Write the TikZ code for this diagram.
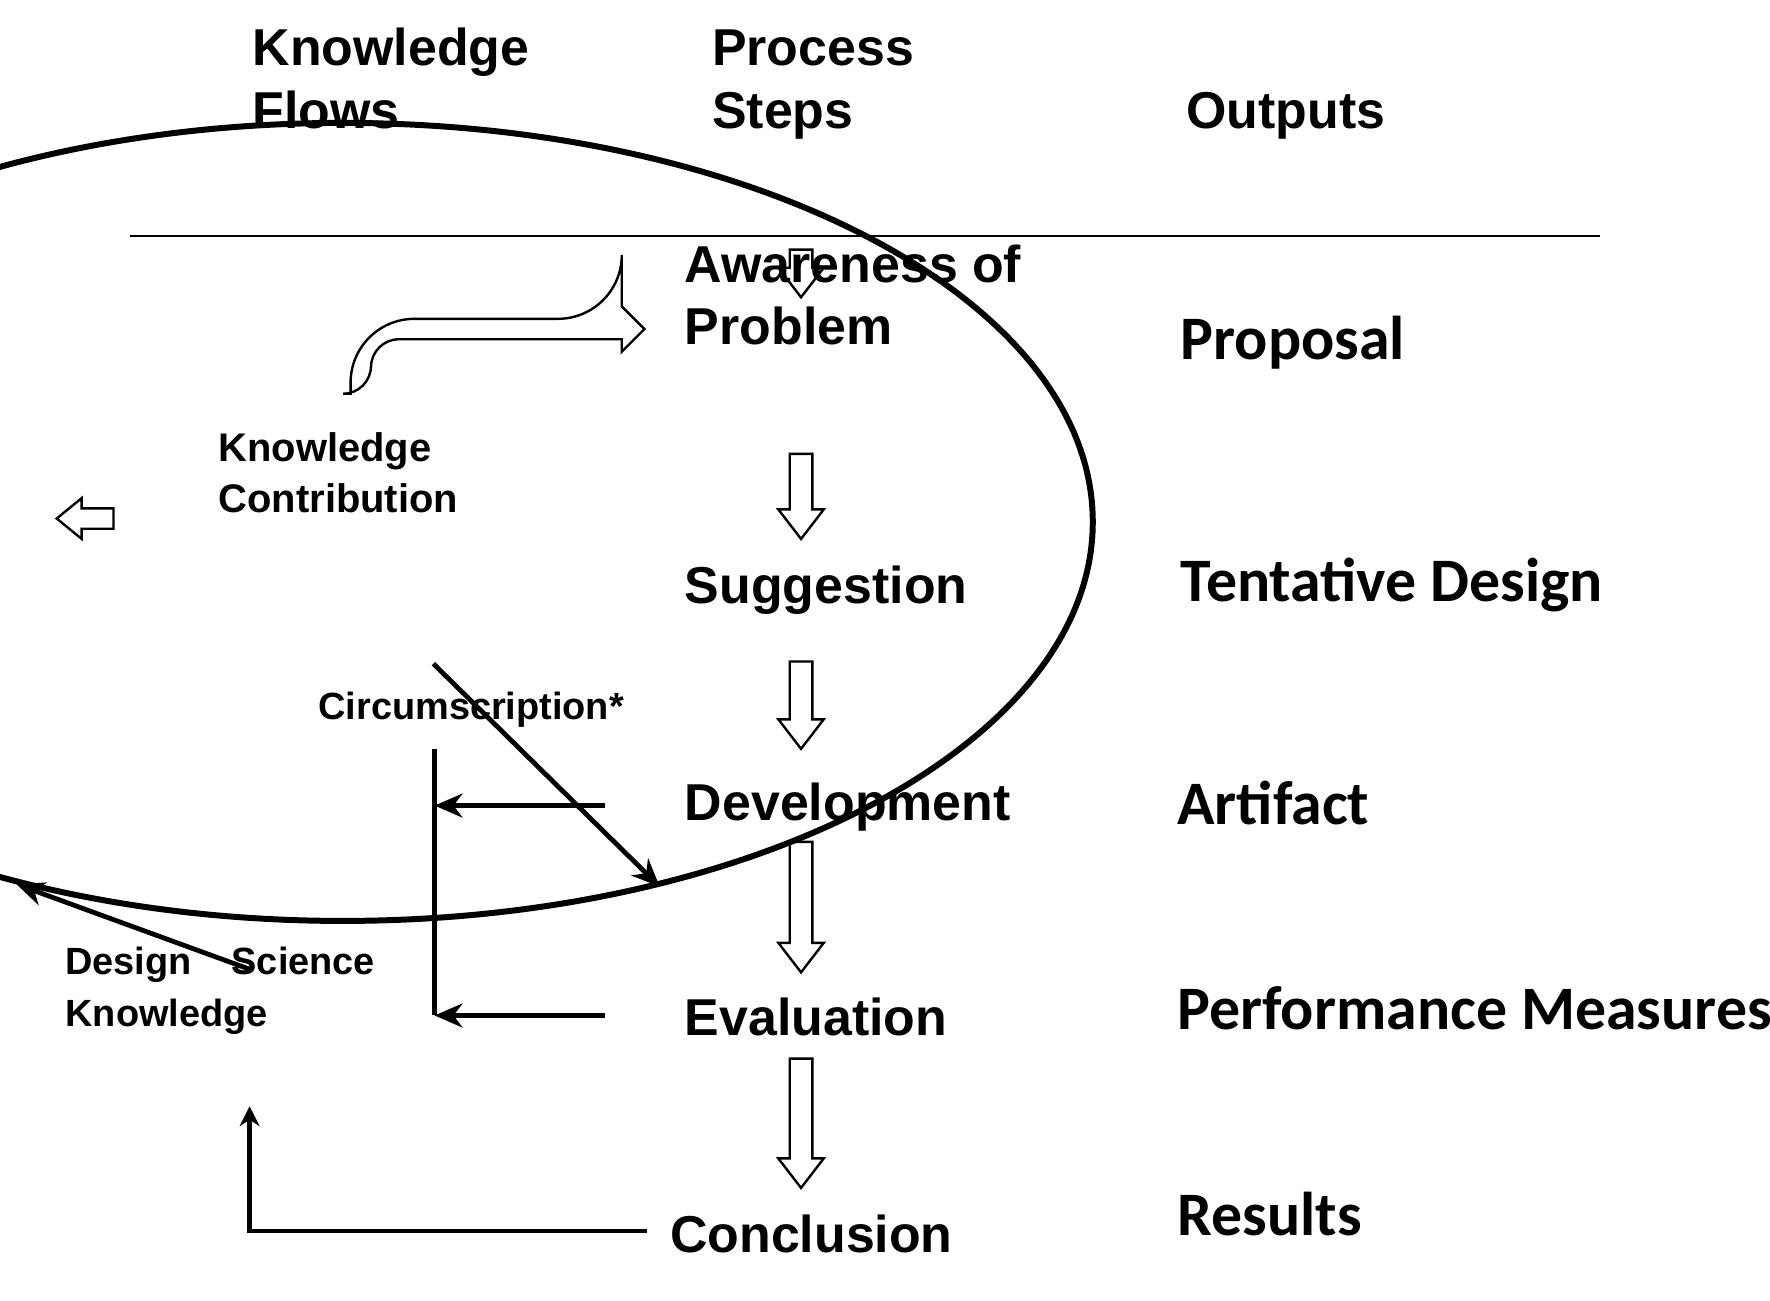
\documentclass[tikz,border=0pt]{standalone}
\usepackage{fontspec}
\setmainfont{Liberation Sans}
\newfontfamily\carfont{Carlito}
\usetikzlibrary{arrows.meta,shapes.geometric}
\newcommand\hollowdown[3]{%
 \draw[hol] (#1-10,#2) -- (#1+10,#2) -- (#1+10,#3-26) -- (#1+20,#3-26) -- (#1,#3) -- (#1-20,#3-26) -- (#1-10,#3-26) -- cycle;}
\begin{document}
\begin{tikzpicture}[x=0.01cm,y=-0.01cm,
 hol/.style={line width=0.6pt},
 flow/.style={line width=1.2pt,-{Stealth[length=7pt,width=6pt]}},
 hd/.style={anchor=base west,inner sep=0,align=left,font=\bfseries\fontsize{13}{15.8}\selectfont},
 st/.style={anchor=base west,inner sep=0,align=left,font=\bfseries\fontsize{13}{15.6}\selectfont},
 outp/.style={anchor=base west,inner sep=0,font=\carfont\bfseries\fontsize{15.5}{18}\selectfont},
 sm/.style={anchor=base west,inner sep=0,align=left,font=\bfseries\fontsize{10}{12.8}\selectfont}]
\useasboundingbox (0,0) rectangle (1560,1146);
\node[hd] (h1) at (222,113) {Knowledge\\Flows};
\node[hd] (h2) at (627,113) {Process\\Steps};
\node[hd] (h3) at (1045,113) {Outputs};
\draw[line width=0.6pt] (115,208) -- (1410,208);
\node[st] (aw) at (603,304) {Awareness of\\Problem};
\node[st] (su) at (603,532) {Suggestion};
\node[st] (de) at (603,723) {Development};
\node[st] (ev) at (603,913) {Evaluation};
\node[st] (co) at (590,1104) {Conclusion};
\node[outp] (o1) at (1040,317) {Proposal};
\node[outp] (o2) at (1040,530) {Tentative Design};
\node[outp] (o3) at (1037,727) {Artifact};
\node[outp] (o4) at (1037,907) {Performance Measures};
\node[outp] (o5) at (1037,1089) {Results};
\hollowdown{706}{220}{262}
\hollowdown{706}{400}{475}
\hollowdown{706}{583}{660}
\hollowdown{706}{742}{857}
\hollowdown{706}{933}{1047}
\node[ellipse,draw,line width=1.5pt,minimum width=376,minimum height=200,inner sep=0] (kc) at (302,460) {};
\node[sm] (kct) at (192,452) {Knowledge\\Contribution};
\draw[hol] (309,347) [rounded corners=16] |- (548,281) [sharp corners] -- (548,270) -- (568,290) -- (548,310) -- (548,299) [rounded corners=7] -| (327,347) [sharp corners] -- cycle;
\draw[hol] (100,448) -- (72,448) -- (72,439) -- (50,457) -- (72,475) -- (72,466) -- (100,466) -- cycle;
\node[sm,font=\bfseries\fontsize{9.5}{12}\selectfont] (ci) at (280,634) {Circumscription*};
\node[sm,font=\bfseries\fontsize{9.5}{13}\selectfont] (ds) at (57,905) {Design\hspace{1.05em}Science\\Knowledge};
\coordinate (a1) at (222,855);
\coordinate (a2) at (382,585);
\draw[flow] (a1) -- (kc.228.5);
\draw[flow] (a2) -- (kc.311.5);
\coordinate (vt) at (383,660);
\coordinate (vb) at (383,895);
\coordinate (d0) at (533,710);
\coordinate (e0) at (533,895);
\draw[line width=1.4pt] (vt) -- (vb);
\draw[flow] (d0) -- (vt |- d0);
\draw[flow] (e0) -- (vb);
\coordinate (c0) at (570,1085);
\coordinate (c1) at (220,975);
\draw[flow,-{Stealth[length=5pt,width=5pt]}] (c0) -| (c1);
\end{tikzpicture}
\end{document}
